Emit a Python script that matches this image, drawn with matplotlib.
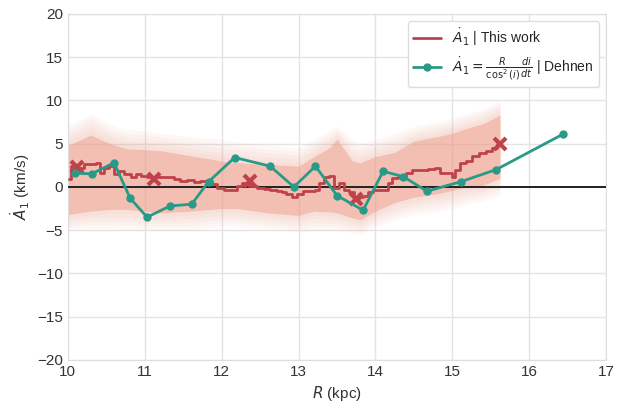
import numpy as np
import matplotlib
matplotlib.use("Agg")
import matplotlib.pyplot as plt
import seaborn as sns

# perfil de A1 punto (este trabajo), con saltos
r_red = [10.01, 10.08, 10.17, 10.25, 10.34, 10.40, 10.43, 10.51, 10.57, 10.64,
         10.70, 10.77, 10.86, 10.92, 10.99, 11.08, 11.21, 11.34, 11.42, 11.50,
         11.59, 11.68, 11.76, 11.85, 11.91, 11.98, 12.07, 12.15, 12.24, 12.30,
         12.41, 12.50, 12.59, 12.67, 12.76, 12.80, 12.88, 12.94, 13.01, 13.10,
         13.19, 13.25, 13.29, 13.36, 13.42, 13.49, 13.55, 13.62, 13.68, 13.75,
         13.81, 13.88, 13.94, 14.01, 14.07, 14.14, 14.19, 14.25, 14.35, 14.44,
         14.50, 14.57, 14.64, 14.74, 14.80, 14.87, 14.96, 15.02, 15.06, 15.13,
         15.22, 15.30, 15.39, 15.48, 15.56, 15.61]
a_red = [0.9, 2.4, 2.2, 2.7, 2.7, 2.8, 1.6, 2.2, 2.4, 1.5,
         1.8, 1.5, 1.1, 1.5, 1.3, 1.1, 1.1, 1.1, 0.9, 0.7,
         0.8, 0.6, 0.7, 0.7, 0.3, -0.1, -0.3, -0.3, 0.1, 0.5,
         0.1, -0.1, -0.2, -0.3, -0.5, -0.6, -0.8, -1.2, -0.8, -0.5,
         -0.5, -0.4, 0.5, 1.1, 1.3, -0.1, 0.5, -0.3, -0.6, -1.4,
         -1.2, -1.0, -0.6, -0.3, -0.4, -0.3, 0.5, 1.0, 1.2, 1.6,
         2.0, 1.9, 2.0, 2.1, 2.2, 1.6, 1.6, 1.2, 1.9, 2.8,
         3.0, 3.6, 3.9, 4.2, 4.5, 5.0]

# cruces sobre el perfil
r_cruz = [10.12, 11.12, 12.37, 13.75, 15.62]
a_cruz = [2.3, 0.9, 0.7, -1.4, 5.0]

# banda de muestras: zona densa y nube tenue
r_band = [10.0, 10.3, 10.55, 10.77, 11.0, 11.2, 11.6, 12.0, 12.2, 12.6, 13.0,
          13.2, 13.4, 13.5, 13.7, 13.8, 14.0, 14.25, 14.5, 14.8, 15.0, 15.2,
          15.4, 15.62]
a_band_sup = [4.8, 6.0, 5.0, 4.4, 4.3, 4.2, 3.6, 3.0, 2.8, 2.6, 2.4,
              3.5, 4.5, 5.5, 3.0, 2.8, 3.5, 4.0, 5.3, 5.8, 6.2, 6.8,
              7.3, 8.3]
a_band_inf = [-3.2, -2.8, -2.6, -2.6, -2.8, -3.0, -2.8, -2.5, -2.5, -3.0, -3.3,
              -2.8, -2.9, -3.0, -3.6, -3.8, -2.8, -1.8, -1.2, -0.8, -0.4, 0.0,
              0.2, 1.0]
a_nube_sup = [7.0, 8.5, 7.2, 6.6, 6.5, 6.2, 5.8, 5.5, 5.2, 4.8, 4.5,
              5.5, 6.5, 7.0, 5.5, 5.0, 5.5, 6.2, 7.0, 7.5, 8.0, 8.5,
              9.0, 10.0]
a_nube_inf = [-5.0, -4.8, -4.8, -4.9, -5.0, -5.0, -5.0, -4.5, -4.6, -4.8, -5.2,
              -5.0, -5.0, -5.0, -5.3, -5.5, -4.6, -3.8, -3.2, -2.8, -2.5, -2.0,
              -1.6, -1.0]

# Dehnen
r_dehnen = [10.09, 10.31, 10.6, 10.81, 11.03, 11.33, 11.61, 11.83, 12.17, 12.63,
            12.94, 13.22, 13.5, 13.84, 14.1, 14.36, 14.67, 15.11, 15.57, 16.44]
a_dehnen = [1.6, 1.5, 2.8, -1.3, -3.5, -2.2, -2.0, 0.6, 3.4, 2.4,
            0.0, 2.4, -1.0, -2.7, 1.8, 1.2, -0.5, 0.6, 2.0, 6.1]

sns.set_style("whitegrid")
plt.rcParams['font.family'] = ['Liberation Sans', 'DejaVu Sans']
plt.rcParams['mathtext.fontset'] = 'dejavusans'

rojo = '#bf424a'
verde = '#2a9a88'
salmon = '#ee9f8b'

fig = plt.figure(figsize=(6.34, 4.09), dpi=100)
ax = fig.add_axes([0.107, 0.12, 0.849, 0.846])

# borde difuso de la banda: capas superpuestas entre la zona densa y la nube
sup, inf = np.array(a_band_sup), np.array(a_band_inf)
nsup, ninf = np.array(a_nube_sup), np.array(a_nube_inf)
for f in [1.0, 0.8, 0.6, 0.4, 0.2]:
    ax.fill_between(r_band, inf + f * (ninf - inf), sup + f * (nsup - sup),
                    color=salmon, alpha=0.07, lw=0)
ax.fill_between(r_band, a_band_inf, a_band_sup, color=salmon, alpha=0.5, lw=0)

ax.axhline(0, color='#222222', lw=1.4, zorder=3)
ax.plot(r_red, a_red, color=rojo, lw=2, drawstyle='steps-mid', zorder=4,
        label=r'$\dot{A}_1$ | This work')
ax.plot(r_cruz, a_cruz, ls='none', marker='x', ms=8, mew=3, color=rojo, zorder=4)
ax.plot(r_dehnen, a_dehnen, color=verde, lw=2, marker='o', ms=5, zorder=5,
        label=r'$\dot{A}_1 = \frac{R}{\cos^2(i)}\frac{di}{dt}$ | Dehnen')

ax.set_xlim(10, 17)
ax.set_ylim(-20, 20)
ax.set_xticks(np.arange(10, 18, 1))
ax.set_yticks(np.arange(-20, 25, 5))
ax.tick_params(labelsize=11, colors='#333333', length=0)
ax.set_xlabel(r'$R$ (kpc)', fontsize=11, color='#333333')
ax.set_ylabel(r'$\dot{A}_1$ (km/s)', fontsize=11, color='#333333')
for s in ax.spines.values():
    s.set_color('#dddddd')
ax.grid(color='#e4e4e4', lw=1)

ax.legend(loc='upper right', fontsize=10, frameon=True, facecolor='white',
          edgecolor='#dddddd', framealpha=1)

fig.savefig('out.png', dpi=100)
